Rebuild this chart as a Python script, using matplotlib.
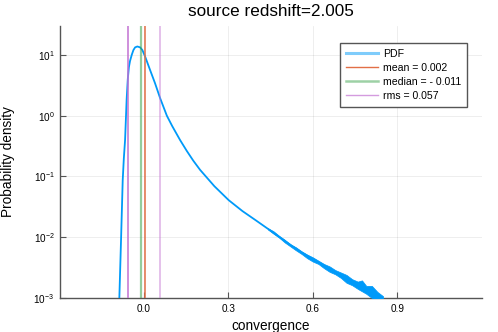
import numpy as np
import matplotlib
matplotlib.use("Agg")
import matplotlib.pyplot as plt
from matplotlib.lines import Line2D

plt.rcParams['font.family'] = ['Liberation Sans', 'DejaVu Sans']
plt.rcParams['mathtext.default'] = 'regular'

# PDF curve (x, log10 density)
pdf_x = [-0.088, -0.082, -0.076, -0.072, -0.0676, -0.062, -0.058, -0.054, -0.050,
         -0.044, -0.038, -0.032, -0.024, -0.014, -0.006, 0.004, 0.0213, 0.039,
         0.057, 0.081, 0.100, 0.128, 0.152, 0.175, 0.199, 0.250, 0.301, 0.350,
         0.400, 0.440, 0.500, 0.560, 0.620, 0.680, 0.740, 0.800, 0.840]
pdf_logy = [-3.0, -2.05, -1.06, -0.70, -0.40, 0.27, 0.60, 0.80, 0.90,
            1.00, 1.08, 1.125, 1.14, 1.125, 1.08, 0.97, 0.753, 0.534,
            0.29, 0.0, -0.17, -0.40, -0.58, -0.74, -0.89, -1.16, -1.39, -1.57,
            -1.73, -1.86, -2.06, -2.25, -2.41, -2.57, -2.73, -2.89, -2.98]

# noisy tail envelope (log10 density)
tail_x = [0.44, 0.46, 0.48, 0.50, 0.52, 0.54, 0.56, 0.58, 0.60, 0.62, 0.64,
          0.66, 0.68, 0.70, 0.72, 0.74, 0.76, 0.775, 0.79, 0.81, 0.83, 0.85]
tail_hi = [-1.85, -1.90, -1.975, -2.04, -2.115, -2.165, -2.23, -2.285, -2.33, -2.385, -2.44,
           -2.48, -2.54, -2.58, -2.62, -2.69, -2.73, -2.71, -2.80, -2.80, -2.90, -2.97]
tail_lo = [-1.87, -1.94, -2.005, -2.085, -2.15, -2.215, -2.275, -2.345, -2.40, -2.44, -2.51,
           -2.57, -2.61, -2.67, -2.75, -2.79, -2.85, -2.89, -2.93, -3.0, -3.05, -3.05]

mean_k = 0.002
median_k = -0.011
rms_k = 0.057

blue = '#009AF9'
orange = '#E26F46'
green = '#3DA44D'
purple = '#C271D2'

fig = plt.figure(figsize=(4.98, 3.32), dpi=100)
ax = fig.add_axes([0.1205, 0.1024, 0.8475, 0.8193])

ax.plot(pdf_x, 10 ** np.array(pdf_logy), color=blue, lw=1.3, zorder=3)
ax.fill_between(tail_x, 10 ** np.array(tail_lo), 10 ** np.array(tail_hi),
                color=blue, lw=0.5, zorder=3)
ax.axvline(mean_k, color=orange, lw=1.1, zorder=4)
ax.axvline(median_k, color=green, lw=1.6, alpha=0.55, zorder=4)
ax.axvline(-rms_k, color=purple, lw=1.1, zorder=4)
ax.axvline(rms_k, color=purple, lw=1.1, alpha=0.55, zorder=4)

ax.set_yscale('log')
ax.set_xlim(-0.299, 1.202)
ax.set_ylim(1e-3, 10 ** 1.477)
ax.set_xticks([0.0, 0.3, 0.6, 0.9])
ax.set_xticklabels(['0.0', '0.3', '0.6', '0.9'])
ax.set_yticks([1e-3, 1e-2, 1e-1, 1e0, 1e1])
ax.yaxis.set_minor_locator(matplotlib.ticker.NullLocator())

ax.grid(True, color='#000000', alpha=0.08, lw=0.6)
ax.set_axisbelow(True)
for s in ['top', 'right']:
    ax.spines[s].set_visible(False)
for s in ['left', 'bottom']:
    ax.spines[s].set_color('#555555')
    ax.spines[s].set_linewidth(1.0)
ax.tick_params(direction='in', length=4, width=0.8, color='#555555',
               labelsize=7.2, pad=4)

ax.set_title('source redshift=2.005', fontsize=12.3, pad=7)
ax.set_xlabel('convergence', fontsize=9.8, labelpad=4)
ax.set_ylabel('Probability density', fontsize=9.8, labelpad=13)

handles = [
    Line2D([], [], color=blue, lw=2.2, alpha=0.5),
    Line2D([], [], color=orange, lw=1.0),
    Line2D([], [], color=green, lw=1.8, alpha=0.5),
    Line2D([], [], color=purple, lw=1.0, alpha=0.7),
]
labels = ['PDF', 'mean = 0.002', 'median = - 0.011', 'rms = 0.057']
leg = ax.legend(handles, labels, loc='upper right', bbox_to_anchor=(0.965, 0.9386),
                fontsize=7.6, fancybox=False, framealpha=1, edgecolor='#555555',
                handlelength=3.0, handletextpad=0.5, labelspacing=0.4,
                borderpad=0.55, borderaxespad=0)
leg.get_frame().set_linewidth(1.0)

fig.savefig('out.png', dpi=100)
